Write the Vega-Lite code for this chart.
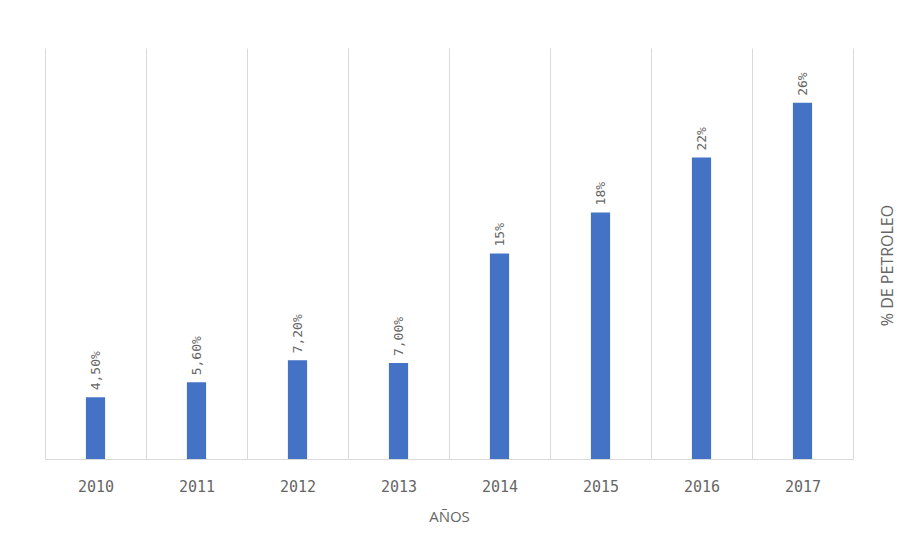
{
  "$schema": "https://vega.github.io/schema/vega-lite/v6.json",
  "width": 808,
  "height": 411,
  "autosize": {"type": "none"},
  "padding": {"left": 45, "top": 48, "right": 44, "bottom": 89},
  "background": "white",
  "config": {
    "view": {"stroke": null},
    "font": "Open Sans"
  },
  "data": {
    "values": [
      {"year": "2010", "pct": 0.045, "label": "4,50%"},
      {"year": "2011", "pct": 0.056, "label": "5,60%"},
      {"year": "2012", "pct": 0.072, "label": "7,20%"},
      {"year": "2013", "pct": 0.070, "label": "7,00%"},
      {"year": "2014", "pct": 0.15, "label": "15%"},
      {"year": "2015", "pct": 0.18, "label": "18%"},
      {"year": "2016", "pct": 0.22, "label": "22%"},
      {"year": "2017", "pct": 0.26, "label": "26%"}
    ]
  },
  "encoding": {
    "x": {
      "field": "year",
      "type": "nominal",
      "scale": {"paddingInner": 0, "paddingOuter": 0},
      "axis": {
        "title": "AÑOS",
        "labelAngle": 0,
        "labelFont": "DejaVu Sans Mono",
        "labelFontSize": 15,
        "labelColor": "#666666",
        "labelPadding": 20,
        "ticks": false,
        "tickBand": "extent",
        "grid": true,
        "gridColor": "#d9d9d9",
        "gridWidth": 1,
        "domainColor": "#d9d9d9",
        "titleFontSize": 15,
        "titleFontWeight": "normal",
        "titleColor": "#666666",
        "titlePadding": 15
      }
    },
    "y": {
      "field": "pct",
      "type": "quantitative",
      "scale": {"domain": [0, 0.30]},
      "axis": {
        "orient": "right",
        "title": "% DE PETROLEO",
        "titleAngle": 270,
        "titleY": 217,
        "titleAlign": "center",
        "labels": false,
        "ticks": false,
        "domain": false,
        "grid": false,
        "titleFontSize": 16,
        "titleFontWeight": "normal",
        "titleColor": "#666666",
        "titlePadding": 42
      }
    }
  },
  "layer": [
    {
      "mark": {"type": "bar", "color": "#4472C4", "width": {"band": 0.19}}
    },
    {
      "mark": {
        "type": "text",
        "angle": 270,
        "align": "left",
        "baseline": "middle",
        "dx": 7,
        "font": "DejaVu Sans Mono",
        "fontSize": 13,
        "color": "#666666"
      },
      "encoding": {"text": {"field": "label"}}
    }
  ]
}
